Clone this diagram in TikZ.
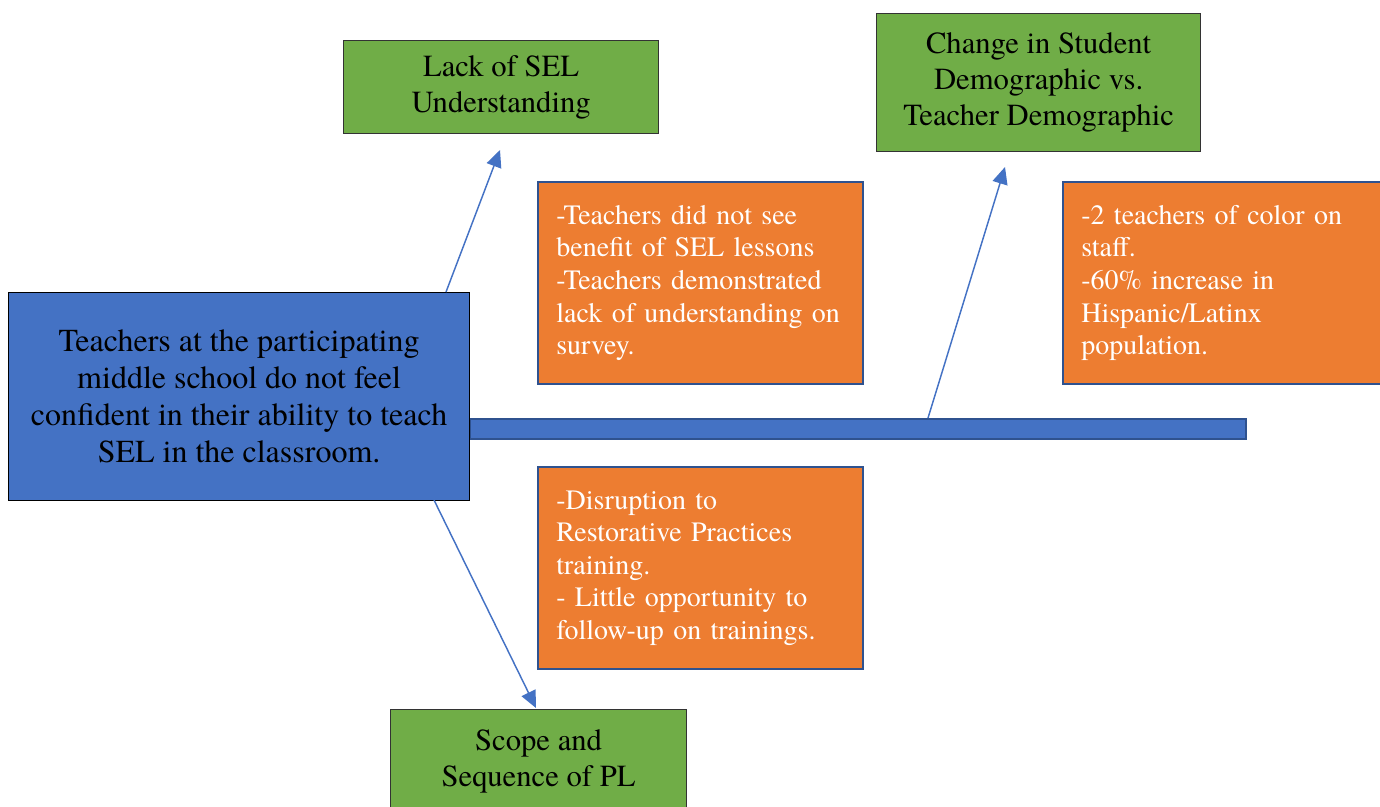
\documentclass[tikz,border=0pt]{standalone}
\usepackage{fontspec}
\setmainfont{texgyretermes}[Extension=.otf, UprightFont=*-regular, BoldFont=*-bold,
  ItalicFont=*-italic, BoldItalicFont=*-bolditalic]
\usetikzlibrary{arrows.meta}

\definecolor{probblue}{HTML}{4472C4}
\definecolor{edgeblue}{HTML}{2F528F}
\definecolor{causegreen}{HTML}{70AD47}
\definecolor{notesorange}{HTML}{ED7D31}

\begin{document}
\begin{tikzpicture}[x=0.75pt, y=-0.75pt,
  problem/.style = {draw=black, line width=0.9pt, fill=probblue, anchor=north west, inner sep=0pt,
    align=center, font=\fontsize{24}{27.75}\selectfont},
  cause/.style = {draw=black!80, line width=0.9pt, fill=causegreen, anchor=north west, inner sep=0pt,
    align=center, font=\fontsize{23}{27}\selectfont},
  notes/.style = {draw=edgeblue, line width=1.5pt, fill=notesorange, anchor=north west, text=white,
    text width=216pt, inner xsep=13.75pt, inner ysep=0pt, minimum height=151.5pt,
    align=left, font=\fontsize{21}{24.4}\selectfont},
  branch/.style = {draw=probblue, line width=1.1pt, -{Triangle[length=12.75pt, width=11.5pt]}}]
\useasboundingbox (0,0) rectangle (1380,806);

% spine and head
\node[draw=edgeblue, line width=1.5pt, fill=probblue, anchor=north west, inner sep=0pt,
  minimum width=582pt, minimum height=15pt] (spine) at (469,418) {};
\node[problem, minimum width=345.75pt, minimum height=156pt] (prob) at (8,292)
  {Teachers at the participating\\ middle school do not feel\\ confident in their ability to teach\\ SEL in the classroom.};

% causes
\node[cause, minimum width=236.25pt, minimum height=69.75pt] (lack) at (343,40)
  {Lack of SEL\\ Understanding};
\node[cause, minimum width=243pt, minimum height=103.5pt] (demo) at (876,13)
  {Change in Student\\ Demographic vs.\\ Teacher Demographic};
\node[cause, minimum width=222pt, minimum height=78pt] (scope) at (390,709)
  {Scope and\\ Sequence of PL};

% details
\node[notes] (lacknotes) at (537,181)
  {-Teachers did not see\\ benefit of SEL lessons\\ -Teachers demonstrated\\ lack of understanding on\\ survey.};
\node[notes] (demonotes) at (1062,181)
  {-2 teachers of color on\\ staff.\\ -60\% increase in\\ Hispanic/Latinx\\ population.};
\node[notes] (scopenotes) at (537,466)
  {-Disruption to\\ Restorative Practices\\ training.\\ - Little opportunity to\\ follow-up on trainings.};

% branches
\coordinate (lackfoot) at (446,292);
\coordinate (lacktip) at (500,150);
\coordinate (demofoot) at (928,418);
\coordinate (demotip) at (1005,167);
\coordinate (scopefoot) at (434,500);
\coordinate (scopetip) at (536,708);
\draw[branch] (lackfoot) -- (lacktip);
\draw[branch] (demofoot) -- (demotip);
\draw[branch] (scopefoot) -- (scopetip);
\end{tikzpicture}
\end{document}
